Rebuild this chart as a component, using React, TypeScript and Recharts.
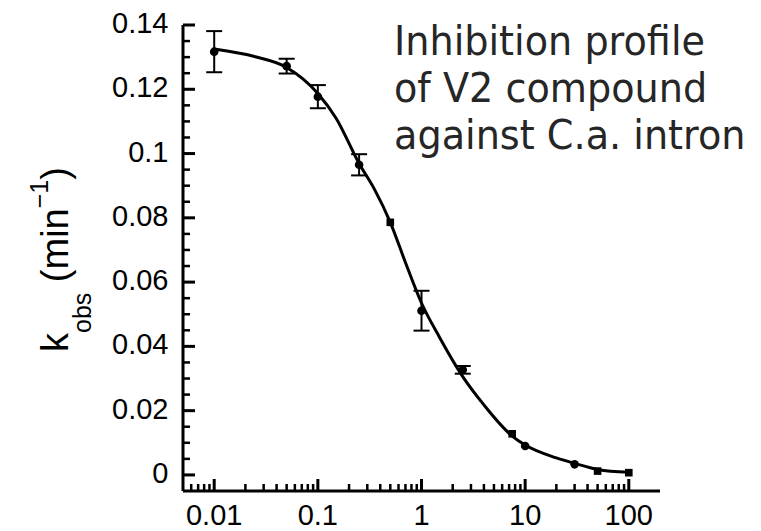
import React from 'react';
import { ComposedChart, Line, Scatter, XAxis, YAxis, ErrorBar } from 'recharts';

// ---- data ----
const circleX = [0.01, 0.05, 0.1, 0.25, 1, 2.5];
const circleY = [0.1317, 0.1272, 0.1177, 0.0965, 0.0511, 0.0327];
const circleErr = [0.0064, 0.0023, 0.0036, 0.0033, 0.0062, 0.0012];

const plainCircleX = [10, 30];
const plainCircleY = [0.009, 0.0033];

const squareX = [0.5, 7.5, 50, 100];
const squareY = [0.0786, 0.0128, 0.0012, 0.0007];

const fitX = [0.01, 0.025, 0.05, 0.1, 0.15, 0.25, 0.35, 0.5, 0.7, 1, 1.5, 2.5, 4, 7.5, 10, 20, 30, 50, 100];
const fitY = [0.1325, 0.1301, 0.1268, 0.1187, 0.111, 0.0969, 0.089, 0.0786, 0.0661, 0.0535, 0.0427, 0.0306, 0.0218, 0.0121, 0.0093, 0.0053, 0.0036, 0.0017, 0.0008];

const xMajorTicks = [0.01, 0.1, 1, 10, 100];
const xMajorLabels = ['0.01', '0.1', '1', '10', '100'];
const xMinorTicks = [
  0.006, 0.007, 0.008, 0.009,
  0.02, 0.03, 0.04, 0.05, 0.06, 0.07, 0.08, 0.09,
  0.2, 0.3, 0.4, 0.5, 0.6, 0.7, 0.8, 0.9,
  2, 3, 4, 5, 6, 7, 8, 9,
  20, 30, 40, 50, 60, 70, 80, 90,
];

const yMajorTicks = [0, 0.02, 0.04, 0.06, 0.08, 0.1, 0.12, 0.14];
const yMajorLabels = ['0', '0.02', '0.04', '0.06', '0.08', '0.1', '0.12', '0.14'];
const yMinorTicks = [
  0.005, 0.01, 0.015, 0.025, 0.03, 0.035, 0.045, 0.05, 0.055,
  0.065, 0.07, 0.075, 0.085, 0.09, 0.095, 0.105, 0.11, 0.115,
  0.125, 0.13, 0.135,
];

const titleLines = ['Inhibition profile', 'of V2 compound', 'against C.a. intron'];

// ---- axis geometry ----
const X_DOMAIN: [number, number] = [0.005, 200];
const Y_DOMAIN: [number, number] = [-0.005, 0.14];
const CHART_W = 761;
const CHART_H = 531;
const PLOT_TOP = 25;
const PLOT_LEFT = 183;
const RIGHT_MARGIN = 101;
const X_AXIS_H = 40;
const PLOT_BOTTOM = CHART_H - X_AXIS_H;
const plotW = CHART_W - PLOT_LEFT - RIGHT_MARGIN;
const plotH = PLOT_BOTTOM - PLOT_TOP;
const MAJOR_LEN = 12;
const MINOR_LEN = 7;

// same log / linear mapping as the chart axes (for the inward tick marks overlay)
const xPos = (v: number) => PLOT_LEFT + (Math.log10(v / X_DOMAIN[0]) / Math.log10(X_DOMAIN[1] / X_DOMAIN[0])) * plotW;
const yPos = (v: number) => PLOT_BOTTOM - ((v - Y_DOMAIN[0]) / (Y_DOMAIN[1] - Y_DOMAIN[0])) * plotH;

// ---- derived tables ----
const circleData = circleX.map((x, i) => ({ x, y: circleY[i], err: circleErr[i] }));
const plainCircleData = plainCircleX.map((x, i) => ({ x, y: plainCircleY[i] }));
const squareData = squareX.map((x, i) => ({ x, y: squareY[i] }));
const fitData = fitX.map((x, i) => ({ x, y: fitY[i] }));

const FONT = '"Liberation Sans", Arial, sans-serif';

const XTick = (props: any) => {
  const x = Number(props.x);
  const v = props.payload.value;
  const idx = xMajorTicks.findIndex((t) => Math.abs(t - v) / t < 1e-6);
  if (idx < 0) return null;
  return (
    <text x={x} y={PLOT_BOTTOM + 34} textAnchor="middle" fontFamily={FONT} fontSize={29} fill="#000" stroke="none">
      {xMajorLabels[idx]}
    </text>
  );
};

const YTick = (props: any) => {
  const y = Number(props.y);
  const v = props.payload.value;
  const idx = yMajorTicks.findIndex((t) => Math.abs(t - v) < 1e-9);
  if (idx < 0) return null;
  return (
    <text x={PLOT_LEFT - 14.5} y={y + 8} textAnchor="end" fontFamily={FONT} fontSize={29} fill="#000" stroke="none">
      {yMajorLabels[idx]}
    </text>
  );
};

const CircleShape = (props: any) => <circle cx={props.cx} cy={props.cy} r={4.3} fill="#000" />;
const SquareShape = (props: any) => (
  <rect x={props.cx - 3.8} y={props.cy - 3.8} width={7.6} height={7.6} fill="#000" />
);

const YLabel = () => (
  <text transform="translate(68,352) rotate(-90)" fontFamily={FONT} fontSize={38} fill="#000">
    k
    <tspan fontSize={25} dy={23}>obs</tspan>
    <tspan fontSize={38} dy={-23}> (min</tspan>
    <tspan fontSize={25} dy={-20}>{'\u22121'}</tspan>
    <tspan fontSize={38} dy={20}>)</tspan>
  </text>
);

const TickMarks = () => (
  <svg
    width={CHART_W}
    height={CHART_H}
    style={{ position: 'absolute', left: 0, top: 0, pointerEvents: 'none', zIndex: 5 }}
  >
    {xMinorTicks.map((v) => (
      <rect key={`xm${v}`} x={xPos(v) - 1.25} y={PLOT_BOTTOM - MINOR_LEN} width={2.5} height={MINOR_LEN} fill="#000" />
    ))}
    {xMajorTicks.map((v) => (
      <rect key={`xM${v}`} x={xPos(v) - 1.5} y={PLOT_BOTTOM - MAJOR_LEN} width={3} height={MAJOR_LEN} fill="#000" />
    ))}
    {yMinorTicks.map((v) => (
      <rect key={`ym${v}`} x={PLOT_LEFT} y={yPos(v) - 1.25} width={MINOR_LEN} height={2.5} fill="#000" />
    ))}
    {yMajorTicks.map((v) => (
      <rect key={`yM${v}`} x={PLOT_LEFT} y={yPos(v) - 1.5} width={MAJOR_LEN} height={3} fill="#000" />
    ))}
  </svg>
);

export default function App() {
  return (
    <div style={{ position: 'absolute', left: 0, top: 0, width: CHART_W, height: CHART_H, background: '#fff' }}>
      <ComposedChart width={CHART_W} height={CHART_H} margin={{ top: PLOT_TOP, right: RIGHT_MARGIN, bottom: 0, left: 0 }}>
        <XAxis
          dataKey="x"
          type="number"
          scale="log"
          domain={X_DOMAIN}
          allowDataOverflow
          ticks={xMajorTicks}
          interval={0}
          tickSize={0}
          tickMargin={0}
          tickLine={false}
          tick={<XTick />}
          height={X_AXIS_H}
          axisLine={{ stroke: '#000', strokeWidth: 3 }}
        />
        <YAxis
          type="number"
          domain={Y_DOMAIN}
          allowDataOverflow
          ticks={yMajorTicks}
          interval={0}
          tickSize={0}
          tickMargin={0}
          tickLine={false}
          tick={<YTick />}
          width={PLOT_LEFT}
          axisLine={{ stroke: '#000', strokeWidth: 3 }}
          label={<YLabel />}
        />
        <Line
          data={fitData}
          dataKey="y"
          type="monotone"
          stroke="#000"
          strokeWidth={3}
          dot={false}
          activeDot={false}
          isAnimationActive={false}
        />
        <Scatter data={circleData} dataKey="y" shape={<CircleShape />} isAnimationActive={false}>
          <ErrorBar dataKey="err" direction="y" width={8} stroke="#000" strokeWidth={2} />
        </Scatter>
        <Scatter data={plainCircleData} dataKey="y" shape={<CircleShape />} isAnimationActive={false} />
        <Scatter data={squareData} dataKey="y" shape={<SquareShape />} isAnimationActive={false} />
      </ComposedChart>
      <TickMarks />
      <div
        style={{
          position: 'absolute',
          left: 394,
          top: 17,
          fontFamily: '"DejaVu Sans", Verdana, sans-serif',
          fontSize: 41.5,
          lineHeight: '47px',
          color: '#262626',
          whiteSpace: 'nowrap',
          transform: 'scaleX(0.92)',
          transformOrigin: '0 0',
        }}
      >
        {titleLines.map((t) => (
          <div key={t}>{t}</div>
        ))}
      </div>
    </div>
  );
}
